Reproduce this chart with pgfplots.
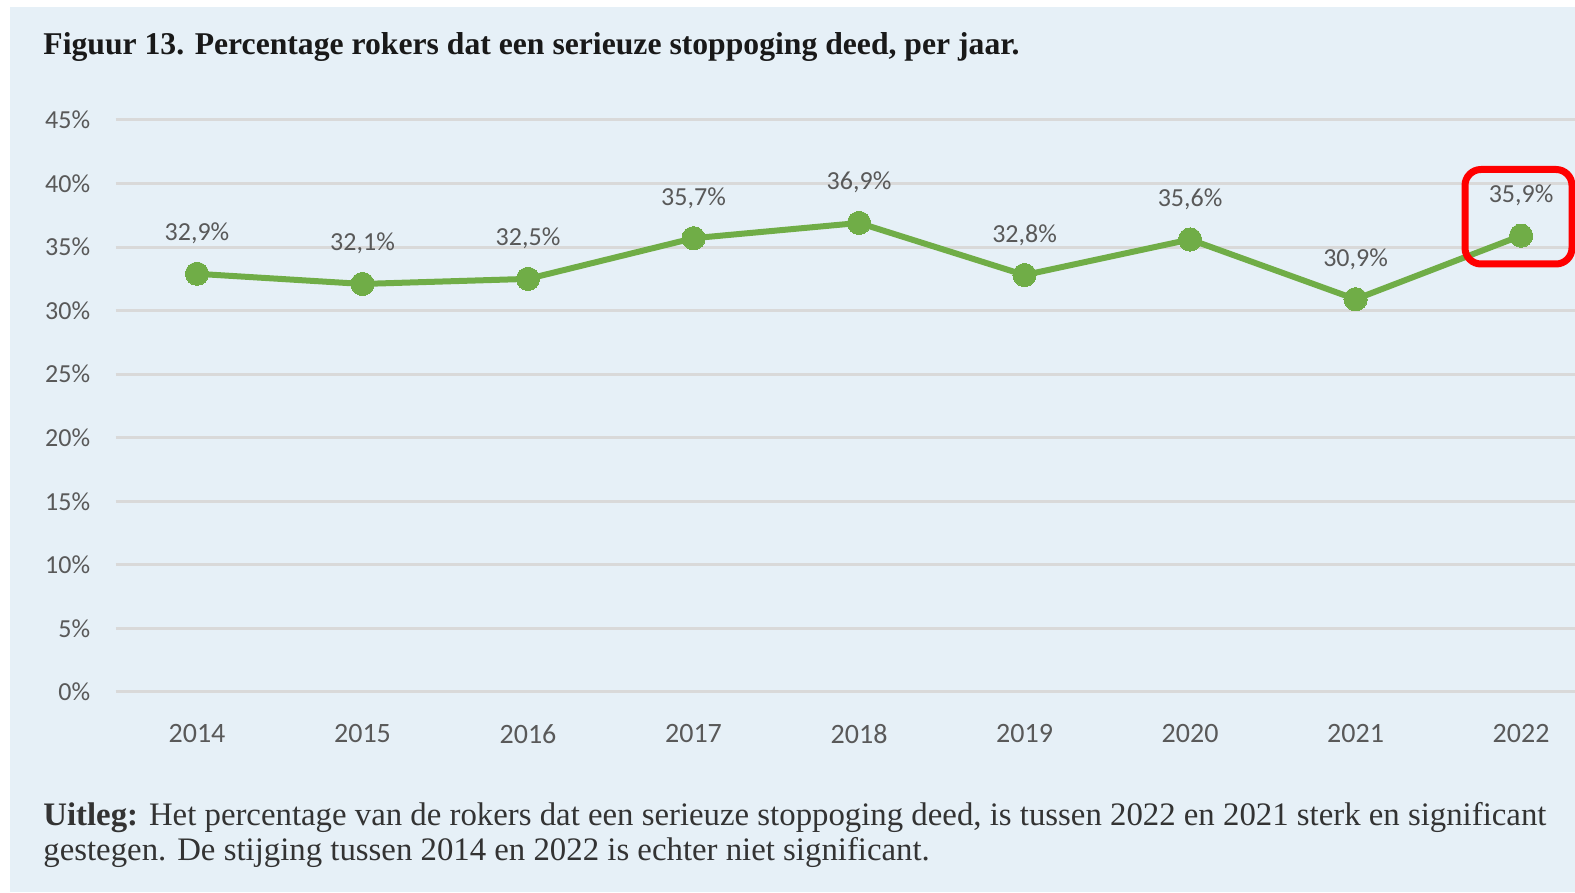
\documentclass[border=0pt]{standalone}
\usepackage{graphicx}
\usepackage{pgfplots}
\pgfplotsset{compat=1.18}
\usepackage{pgfplotstable}
\usepackage{fontspec}
\setmainfont{Liberation Serif}
\newfontfamily\calfont{Carlito}
\definecolor{panel}{HTML}{E6F0F7}
\definecolor{lgreen}{HTML}{70AD47}
\definecolor{gridc}{HTML}{D9D9D9}
\definecolor{tickc}{HTML}{595959}
\definecolor{txt}{HTML}{333333}

\pgfplotstableread{
x val
0 32.9
1 32.1
2 32.5
3 35.7
4 36.9
5 32.8
6 35.6
7 30.9
8 35.9
}\datatab

\newlength\tw
\newlength\cw
\newcommand\titletext{\bfseries Figuur 13. Percentage rokers dat een serieuze stoppoging deed, per jaar.}
\newcommand\capone{\textbf{Uitleg:} Het percentage van de rokers dat een serieuze stoppoging deed, is tussen 2022 en 2021 sterk en significant}
\newcommand\captwo{gestegen. De stijging tussen 2014 en 2022 is echter niet significant.}

\begin{document}%
\settowidth\tw{\titletext}%
\settowidth\cw{\capone}%
\pgfmathsetmacro\ts{488*1.00375/\tw}%
\pgfmathsetmacro\cs{751.5*1.00375/\cw}%
\begin{tikzpicture}[x=0.5bp,y=0.5bp]
\useasboundingbox (0,0) rectangle (1575,892);
\fill[white] (0,0) rectangle (1575,892);
\fill[panel] (10,0) rectangle (1575,885);
\node[anchor=base west, inner sep=0pt, text=black!90] at (43,837) {\scalebox{\ts}{\titletext}};
\node[anchor=base west, inner sep=0pt, text=txt] at (43,67) {\scalebox{\cs}{\capone}};
\node[anchor=base west, inner sep=0pt, text=txt] at (43,32) {\scalebox{\cs}{\captwo}};
\begin{axis}[
  at={(57.75bp,100bp)}, anchor=south west,
  scale only axis, width=729.75bp, height=286bp,
  xmin=-0.4924, xmax=8.326, ymin=0, ymax=45,
  clip=false,
  axis line style={draw=none},
  major tick length=0pt,
  tick style={draw=none},
  ymajorgrids,
  grid style={gridc, line width=1.5bp},
  xtick={0,1,2,3,4,5,6,7,8},
  xticklabels={2014,2015,2016,2017,2018,2019,2020,2021,2022},
  ytick={0,5,10,15,20,25,30,35,40,45},
  yticklabel={\pgfmathprintnumber{\tick}\%},
  /pgf/number format/assume math mode=true,
  xticklabel style={font=\calfont\fontsize{14bp}{14bp}\selectfont, text=tickc, anchor=north, inner sep=0pt, yshift=-16bp},
  yticklabel style={font=\calfont\fontsize{13bp}{13bp}\selectfont, text=tickc, anchor=east, inner sep=0pt, xshift=-12.5bp},
]
\addplot[lgreen, line width=3bp, mark=*, mark size=5.8bp,
  mark options={fill=lgreen, draw=lgreen, line width=0pt},
  nodes near coords={\pgfmathprintnumber[fixed,fixed zerofill,precision=1,use comma]{\pgfplotspointmeta}\%},
  every node near coord/.append style={font=\calfont\fontsize{13bp}{13bp}\selectfont, text=tickc, anchor=base, yshift=16.5bp}
] table[x=x,y=val]{\datatab};
\end{axis}
\draw[red, line width=3.5bp, rounded corners=8bp] (1465,722.5) rectangle (1572,628);
\end{tikzpicture}%
\end{document}
